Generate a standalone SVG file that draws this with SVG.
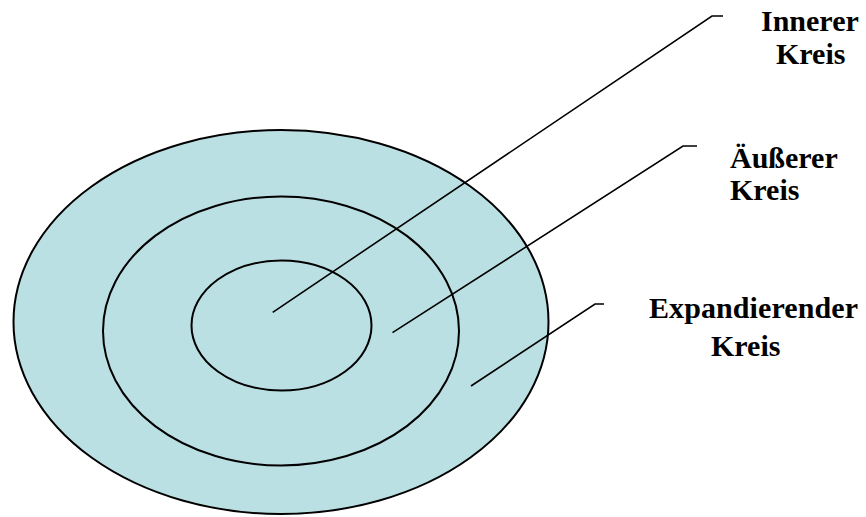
<svg xmlns="http://www.w3.org/2000/svg" width="866" height="517" viewBox="0 0 866 517">
<style>
.ring{fill:#BBE0E3;stroke:#000;stroke-width:2}
.ring2{fill:none;stroke:#000;stroke-width:2}
.conn{fill:none;stroke:#000;stroke-width:1.6}
.lbl{font-family:"Liberation Serif","Times New Roman",serif;font-weight:bold;font-size:30px;fill:#000}
</style>
<rect width="866" height="517" fill="#fff"/>
<g id="expandierender-kreis"><ellipse class="ring" cx="281" cy="322" rx="267.5" ry="192"/></g>
<g id="aeusserer-kreis"><ellipse class="ring2" cx="281" cy="331" rx="178" ry="134.5"/></g>
<g id="innerer-kreis"><ellipse class="ring2" cx="281.5" cy="325.5" rx="90" ry="65"/></g>
<g id="connectors">
<polyline class="conn" points="272.7,312.3 712,16 723,16"/>
<polyline class="conn" points="392.5,332.7 683,146 697,146"/>
<polyline class="conn" points="471,386 595,304 604,304"/>
</g>
<g id="label-innerer">
<text class="lbl" x="761" y="31">Innerer</text>
<text class="lbl" x="776" y="64">Kreis</text>
</g>
<g id="label-aeusserer">
<text class="lbl" x="730" y="168">Äußerer</text>
<text class="lbl" x="730" y="200">Kreis</text>
</g>
<g id="label-expandierender">
<text class="lbl" x="649" y="318" textLength="209" lengthAdjust="spacing">Expandierender</text>
<text class="lbl" x="711" y="356">Kreis</text>
</g>
</svg>
